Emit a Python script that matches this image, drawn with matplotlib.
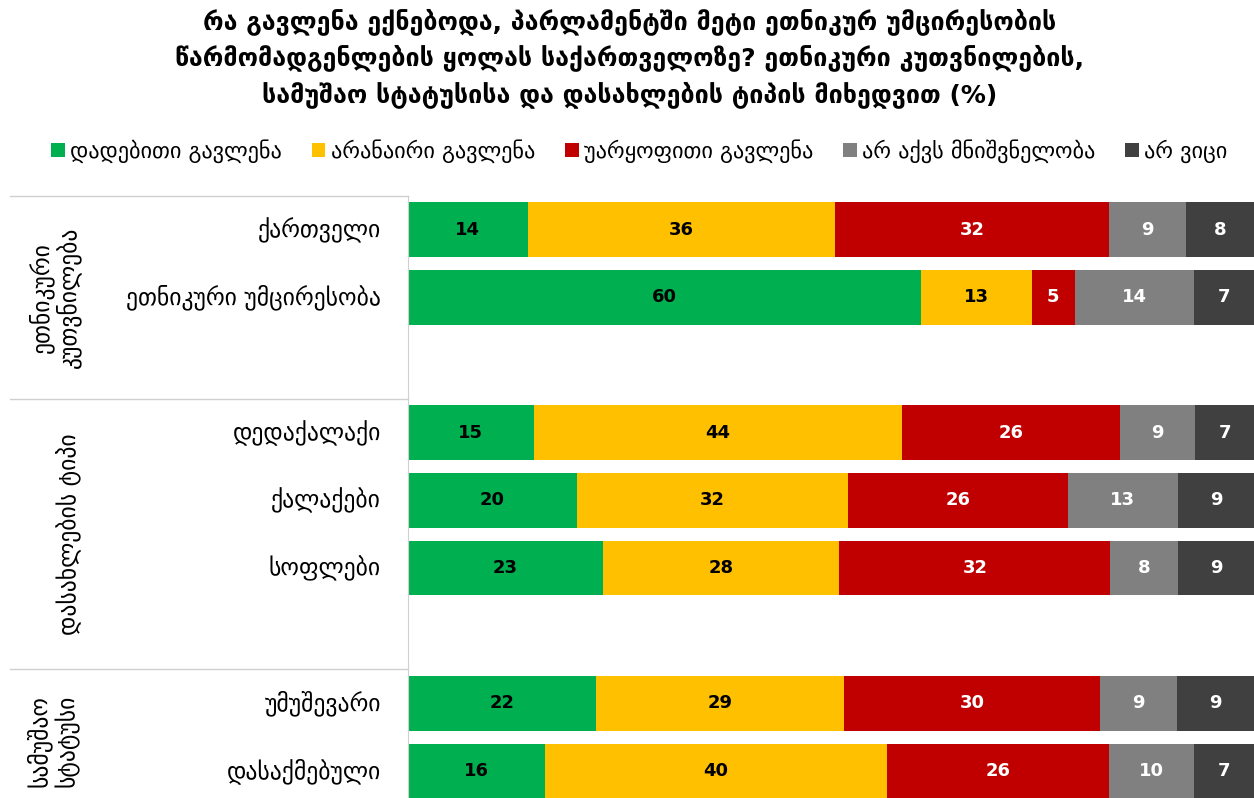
import matplotlib
matplotlib.use("Agg")
import matplotlib.pyplot as plt
import matplotlib.transforms as mtransforms
import numpy as np

plt.rcParams['font.family'] = ['DejaVu Sans']

# ---- data ----
title = ("რა გავლენა ექნებოდა, პარლამენტში მეტი ეთნიკურ უმცირესობის\n"
         "წარმომადგენლების ყოლას საქართველოზე? ეთნიკური კუთვნილების,\n"
         "სამუშაო სტატუსისა და დასახლების ტიპის მიხედვით (%)")

series_names = ["დადებითი გავლენა", "არანაირი გავლენა", "უარყოფითი გავლენა",
                "არ აქვს მნიშვნელობა", "არ ვიცი"]
colors = ["#00B050", "#FFC000", "#C00000", "#808080", "#404040"]
text_colors = ["black", "black", "white", "white", "white"]

row_labels = ["ქართველი", "ეთნიკური უმცირესობა",
              "დედაქალაქი", "ქალაქები", "სოფლები",
              "უმუშევარი", "დასაქმებული"]
row_pos = [0, 1, 3, 4, 5, 7, 8]

positive = [14, 60, 15, 20, 23, 22, 16]
no_effect = [36, 13, 44, 32, 28, 29, 40]
negative = [32, 5, 26, 26, 32, 30, 26]
no_matter = [9, 14, 9, 13, 8, 9, 10]
dont_know = [8, 7, 7, 9, 9, 9, 7]

group_labels = ["ეთნიკური\nკუთვნილება", "დასახლების ტიპი", "სამუშაო\nსტატუსი"]
group_centers = [1.0, 4.5, 7.55]
group_edges = [-0.5, 2.5, 6.5]

# ---- plot ----
fig = plt.figure(figsize=(12.54, 7.98), dpi=100)
ax = fig.add_axes([408 / 1254, 0, 846 / 1254, 1 - 196 / 798])

values = np.array([positive, no_effect, negative, no_matter, dont_know], dtype=float)
shares = values / values.sum(axis=0) * 100

left = np.zeros(len(row_pos))
for i in range(len(series_names)):
    bars = ax.barh(row_pos, shares[i], left=left, height=0.81, color=colors[i],
                   label=series_names[i], linewidth=0)
    for j, b in enumerate(bars):
        ax.text(left[j] + shares[i][j] / 2, row_pos[j], str(int(values[i][j])),
                ha="center", va="center", fontsize=13, fontweight="bold",
                color=text_colors[i])
    left += shares[i]

ax.set_xlim(0, 100)
ax.set_ylim(8.4, -0.5)
ax.set_xticks([])
ax.set_yticks([])
for s in ["top", "right", "bottom"]:
    ax.spines[s].set_visible(False)
ax.spines["left"].set_color("#d0d0d0")

trans = mtransforms.blended_transform_factory(ax.transAxes, ax.transData)
for y, lab in zip(row_pos, row_labels):
    ax.text(-0.032, y, lab, transform=trans, ha="right", va="center", fontsize=17)

for y in group_edges:
    ax.plot([-0.470, 0], [y, y], transform=trans, color="#d0d0d0", lw=1, clip_on=False)

ax.text(-0.418, group_centers[0], group_labels[0], transform=trans, rotation=90,
        ha="center", va="center", fontsize=17, linespacing=1.1)
ax.text(-0.400, group_centers[1], group_labels[1], transform=trans, rotation=90,
        ha="center", va="center", fontsize=17)
ax.text(-0.420, group_centers[2], group_labels[2], transform=trans, rotation=90,
        ha="center", va="center", fontsize=17, linespacing=1.1)

fig.text(0.502, 1 - 58 / 798, title, ha="center", va="center", fontsize=18,
         fontweight="bold", linespacing=1.45)

fig.legend(loc="center", bbox_to_anchor=(0.510, 1 - 151 / 798), ncol=5,
           frameon=False, fontsize=16, handlelength=0.6, handleheight=0.6,
           handletextpad=0.25, columnspacing=1.35)

fig.savefig("out.png", dpi=100)
